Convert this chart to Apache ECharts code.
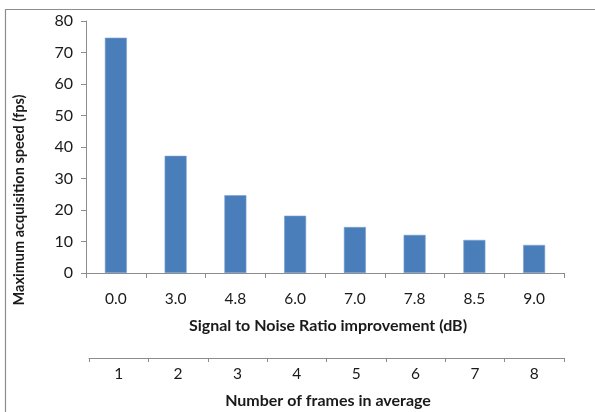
<!DOCTYPE html>
<html>
<head>
<meta charset="utf-8">
<script src="https://cdn.jsdelivr.net/npm/echarts@6/dist/echarts.min.js"></script>
<style>
html,body{margin:0;padding:0;background:#fff;overflow:hidden;}
#c{width:595px;height:412px;}
</style>
</head>
<body>
<div id="c"></div>
<script>
var snrLabels = ['0.0','3.0','4.8','6.0','7.0','7.8','8.5','9.0'];
var frameLabels = ['1','2','3','4','5','6','7','8'];
var speedValues = [74.7, 37.2, 24.7, 18.2, 14.6, 12.1, 10.5, 8.9];
var yTicks = {min: 0, max: 80, interval: 10};

var FONT = 'Lato, "Open Sans", sans-serif';
var axisGray = '#8c8c8c';
var chart = echarts.init(document.getElementById('c'));
chart.setOption({
  animation: false,
  backgroundColor: '#fff',
  grid: [
    {left: 86, right: 31, top: 21, bottom: 139},
    {left: 89, right: 31, top: 300, height: 58}
  ],
  xAxis: [
    {
      type: 'category', gridIndex: 0, data: snrLabels,
      axisLine: {lineStyle: {color: axisGray, width: 1}},
      axisTick: {show: true, length: 5, lineStyle: {color: axisGray}},
      axisLabel: {color: '#1a1a1a', fontSize: 15.5, fontFamily: FONT, margin: 18}
    },
    {
      type: 'category', gridIndex: 1, data: frameLabels, position: 'bottom',
      axisLine: {lineStyle: {color: axisGray, width: 1}},
      axisTick: {show: true, length: 4, lineStyle: {color: axisGray}},
      axisLabel: {color: '#1a1a1a', fontSize: 15.5, fontFamily: FONT, margin: 8}
    }
  ],
  yAxis: [
    {
      type: 'value', gridIndex: 0, min: yTicks.min, max: yTicks.max, interval: yTicks.interval,
      axisLine: {show: true, lineStyle: {color: axisGray, width: 1}},
      axisTick: {show: true, length: 5, lineStyle: {color: axisGray}},
      splitLine: {show: false},
      axisLabel: {color: '#1a1a1a', fontSize: 16, fontFamily: FONT, margin: 13}
    },
    {type: 'value', gridIndex: 1, show: false}
  ],
  series: [{
    type: 'bar', xAxisIndex: 0, yAxisIndex: 0, data: speedValues,
    barWidth: 22,
    itemStyle: {color: '#4a7ebb', borderColor: '#7ea3d2', borderWidth: 0.6}
  }],
  graphic: [
    {type: 'line', shape: {x1: 5, y1: 9.5, x2: 600, y2: 9.5}, style: {stroke: '#8c8c8c', lineWidth: 1.2}, z: -1},
    {type: 'line', shape: {x1: 5.5, y1: 9, x2: 5.5, y2: 420}, style: {stroke: '#8c8c8c', lineWidth: 1.2}, z: -1},
    {type: 'text', x: 328, y: 326, style: {text: 'Signal to Noise Ratio improvement (dB)', font: 'bold 16px ' + FONT, fill: '#1a1a1a', textAlign: 'center', textVerticalAlign: 'middle'}},
    {type: 'text', x: 328, y: 401, style: {text: 'Number of frames in average', font: 'bold 16px ' + FONT, fill: '#1a1a1a', textAlign: 'center', textVerticalAlign: 'middle'}},
    {type: 'text', x: 19, y: 200, rotation: Math.PI / 2, style: {text: 'Maximum acquisition speed (fps)', font: 'bold 14.5px ' + FONT, fill: '#1a1a1a', textAlign: 'center', textVerticalAlign: 'middle'}}
  ]
});
</script>
</body>
</html>
